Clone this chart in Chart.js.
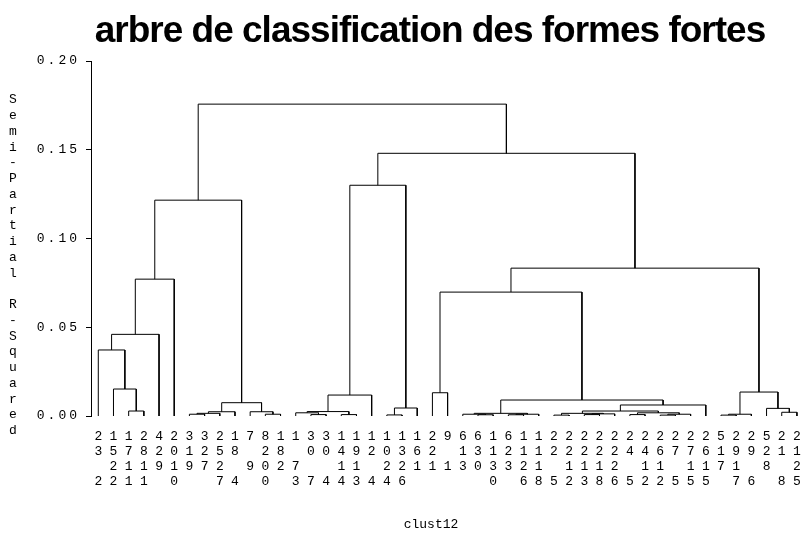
<!DOCTYPE html>
<html lang="fr">
<head>
<meta charset="UTF-8">
<title>arbre de classification des formes fortes</title>
<script src="https://cdn.jsdelivr.net/npm/chart.js"></script>
<style>
  html, body { margin: 0; padding: 0; background: #fff; }
</style>
</head>
<body>
<canvas id="tree" width="806" height="539"></canvas>
<script>
const chartTitle = 'arbre de classification des formes fortes';
const yTitle = 'Semi-Partial R-Squared';
const xTitle = 'clust12';
const yTicks = [0, 0.05, 0.10, 0.15, 0.20];

// leaf ids, one character per line, read top to bottom (space = empty line)
const leafLabels = [
  '23 2', '1522', '1711', '2811', '429 ', '2010', '319 ', '327 ', '2527', '18 4',
  '7 9 ', '8200', '182 ', '1 73', '30 7', '30 4', '1414', '1913', '12 4', '1024',
  '1326', '161 ', '221 ', '9 1 ', '613 ', '630 ', '1130', '623 ', '1126', '1118',
  '22 5', '2212', '2213', '2218', '2226', '24 5', '2412', '2612', '27 5', '2715',
  '2615', '517 ', '2917', '29 6', '528 ', '21 8', '2125'
];

// merge steps: negative = leaf number (left to right), positive = earlier step
const mergeLeft = [
  -3, -2, -1, 3, 4, -7, 6, 7, -12, -11, 8, 5, -15, -14, -17, 14, 16, -20, 18, 17,
  -23, -26, -25, -28, 24, 23, -31, -33, 28, 27, -36, -38, 32, 31, 30, 35, 26, 21,
  -42, 39, -46, -45, 40, 38, 20, 12
];
const mergeRight = [
  -4, 1, 2, -5, -6, -8, -9, -10, -13, 9, 10, 11, -16, 13, -18, 15, -19, -21, -22, 19,
  -24, -27, 22, -29, -30, 25, -32, -34, -35, 29, -37, -39, -40, 33, 34, -41, 36, 37,
  -43, -44, -47, 41, 42, 43, 44, 45
];
const mergeHeight = [
  0.0028, 0.0152, 0.0372, 0.0460, 0.0771, 0.0010, 0.0015, 0.0024, 0.0010, 0.0024,
  0.0075, 0.1216, 0.0008, 0.0018, 0.0008, 0.0025, 0.0118, 0.0006, 0.0045, 0.1300,
  0.0131, 0.0007, 0.0010, 0.0007, 0.0010, 0.0015, 0.0005, 0.0008, 0.0012, 0.0015,
  0.0008, 0.0005, 0.0010, 0.0018, 0.0028, 0.0062, 0.0090, 0.0698, 0.0005, 0.0010,
  0.0021, 0.0043, 0.0135, 0.0833, 0.1480, 0.1757
];

// each merge becomes a little bracket: up from both children, across at the merge height
const nodeX = [], nodeY = [];
function node(ref) {
  return ref < 0 ? { x: -ref - 1, y: 0 } : { x: nodeX[ref - 1], y: nodeY[ref - 1] };
}
const datasets = mergeHeight.map((h, i) => {
  const l = node(mergeLeft[i]);
  const r = node(mergeRight[i]);
  nodeX.push((l.x + r.x) / 2);
  nodeY.push(h);
  return {
    data: [{ x: l.x, y: l.y }, { x: l.x, y: h }, { x: r.x, y: h }, { x: r.x, y: r.y }],
    showLine: true,
    borderColor: '#000',
    borderWidth: 1,
    pointRadius: 0,
    fill: false
  };
});

const textPlugin = {
  id: 'texts',
  afterDraw(chart) {
    const ctx = chart.ctx;
    const y = chart.scales.y;
    ctx.save();
    ctx.fillStyle = '#000';

    ctx.font = 'bold 37px "Liberation Sans"';
    ctx.letterSpacing = '-1px';
    ctx.textAlign = 'center';
    ctx.textBaseline = 'alphabetic';
    ctx.fillText(chartTitle, 430, 42);

    ctx.font = '13px "Liberation Mono"';
    ctx.letterSpacing = '3px';
    ctx.textAlign = 'right';
    ctx.textBaseline = 'middle';
    yTicks.forEach(v => ctx.fillText(v.toFixed(2), y.right - 11, y.getPixelForValue(v)));

    ctx.letterSpacing = '0px';
    ctx.textAlign = 'center';
    yTitle.split('').forEach((c, i) => ctx.fillText(c, 13, 100 + i * 15.75));

    ctx.fillText(xTitle, 431, 525);
    ctx.restore();
  }
};

new Chart(document.getElementById('tree'), {
  type: 'scatter',
  data: { datasets },
  options: {
    responsive: false,
    animation: false,
    layout: { padding: { top: 61, right: 3, left: 0, bottom: 0 } },
    plugins: {
      legend: { display: false },
      tooltip: { enabled: false },
      title: { display: false }
    },
    scales: {
      x: {
        type: 'linear',
        min: -0.48,
        max: 46.4,
        afterFit: s => { s.height = 123; s.paddingLeft = 0; s.paddingRight = 0; },
        grid: { display: false, drawTicks: false },
        border: { display: false },
        ticks: {
          stepSize: 1,
          includeBounds: false,
          autoSkip: false,
          maxRotation: 0,
          padding: 13,
          color: '#000',
          font: { family: 'Liberation Mono', size: 13, lineHeight: 1.15 },
          callback: v => {
            const i = Math.round(v);
            return Math.abs(v - i) < 1e-6 && leafLabels[i] ? leafLabels[i].split('') : '';
          }
        }
      },
      y: {
        min: 0,
        max: 0.2,
        afterFit: s => { s.width = 91; },
        afterBuildTicks: s => { s.ticks = yTicks.map(v => ({ value: v })); },
        grid: { drawOnChartArea: false, drawTicks: true, tickLength: 5, color: '#000' },
        border: { display: true, color: '#000' },
        ticks: { display: false }
      }
    }
  },
  plugins: [textPlugin]
});
</script>
</body>
</html>
